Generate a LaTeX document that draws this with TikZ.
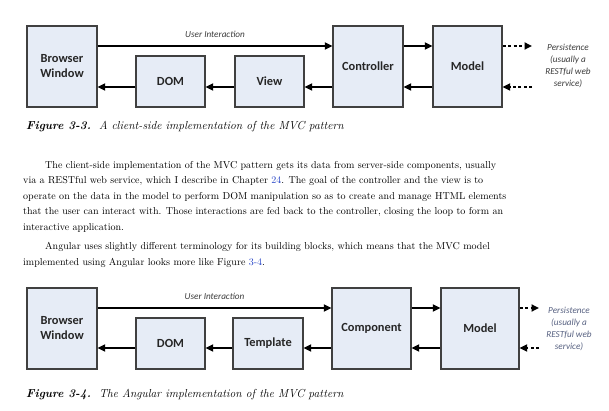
\documentclass[tikz,border=0pt]{standalone}
\usepackage{fontspec}
\newfontfamily\diafont{Carlito}
\usepackage{xcolor}
\usetikzlibrary{arrows.meta}
\usetikzlibrary{positioning}
\definecolor{boxfill}{RGB}{230,236,246}
\definecolor{boxline}{RGB}{64,64,64}
\definecolor{notegray}{RGB}{60,60,60}
\definecolor{noteblue}{RGB}{88,98,130}
\definecolor{linkblue}{RGB}{40,70,200}

\begin{document}
\begin{tikzpicture}[x=1pt, y=-1pt, >={Triangle[length=7.5pt,width=7pt]}]
\tikzstyle{block} = [draw=boxline, fill=boxfill, line width=1.2pt, inner sep=0pt, align=center, text=black!85, font=\diafont\bfseries\fontsize{12.4}{15}\selectfont, minimum width=70pt, minimum height=81pt]
\tikzstyle{low block} = [block, minimum height=51pt]
\tikzstyle{flow} = [->, line width=1.7pt]
\tikzstyle{persist} = [->, line width=1.7pt, dash pattern=on 3pt off 2.5pt]
\tikzstyle{note} = [font=\diafont\itshape\fontsize{9.2}{11.7}\selectfont, align=center, text=notegray, inner sep=0pt]
\tikzstyle{caption} = [anchor=base west, inner sep=0pt, font=\fontsize{11.6}{13}\selectfont\itshape]
\tikzstyle{body} = [anchor=north west, inner sep=0pt, align=left, font=\fontsize{10.05}{15.5}\selectfont]

\fill[white] (0,0) rectangle (609,411);
\useasboundingbox (0,0) rectangle (609,411);

% Figure 3-3
\coordinate (topA) at (0,46);
\coordinate (lowA) at (0,87);
\node[block] (browserA) at (62,66.5) {Browser\\Window};
\node[low block, minimum width=69pt] (domA) at (170.5,81.5) {DOM};
\node[low block, minimum width=69pt] (viewA) at (269.5,81.5) {View};
\node[block] (controllerA) at (368,66.5) {Controller};
\node[block, minimum width=69pt] (modelA) at (467.5,66.5) {Model};
\node[note] (persistA) at (568,66) {Persistence\\(usually a\\RESTful web\\service)};
\coordinate (storeA) at (532,0);

\draw[flow] (browserA.east |- topA) -- node[note, above=8pt]{User Interaction} (controllerA.west |- topA);
\draw[flow] (controllerA.east |- topA) -- (modelA.west |- topA);
\draw[flow] (modelA.west |- lowA) -- (controllerA.east |- lowA);
\draw[flow] (controllerA.west |- lowA) -- (viewA.east |- lowA);
\draw[flow] (viewA.west |- lowA) -- (domA.east |- lowA);
\draw[flow] (domA.west |- lowA) -- (browserA.east |- lowA);
\draw[persist] (modelA.east |- topA) -- (storeA |- topA);
\draw[persist] (storeA |- lowA) -- (modelA.east |- lowA);

\node[caption] (capA) at (26,130) {\textbf{Figure 3-3.}\ \ A client-side implementation of the MVC pattern};

% body text
\node[body] (paraA) at (23,161) {\hspace*{22pt}The client-side implementation of the MVC pattern gets its data from server-side components, usually\\
via a RESTful web service, which I describe in Chapter \textcolor{linkblue}{24}. The goal of the controller and the view is to\\
operate on the data in the model to perform DOM manipulation so as to create and manage HTML elements\\
that the user can interact with. Those interactions are fed back to the controller, closing the loop to form an\\
interactive application.};
\node[body] (paraB) at (23,242.5) {\hspace*{22pt}Angular uses slightly different terminology for its building blocks, which means that the MVC model\\
implemented using Angular looks more like Figure \textcolor{linkblue}{3-4}.};

% Figure 3-4
\coordinate (topB) at (0,308);
\coordinate (lowB) at (0,348);
\node[block] (browserB) at (62,328.5) {Browser\\Window};
\node[low block, minimum width=69pt] (domB) at (170.5,343.5) {DOM};
\node[low block] (templateB) at (268,343.5) {Template};
\node[block, minimum width=79pt] (componentB) at (371.5,328.5) {Component};
\node[block, minimum width=78pt] (modelB) at (480,328.5) {Model};
\node[note, text=noteblue] (persistB) at (569,329) {Persistence\\(usually a\\RESTful web\\service)};
\coordinate (storeB) at (539,0);

\draw[flow] (browserB.east |- topB) -- node[note, above=8pt]{User Interaction} (componentB.west |- topB);
\draw[flow] (componentB.east |- topB) -- (modelB.west |- topB);
\draw[flow] (modelB.west |- lowB) -- (componentB.east |- lowB);
\draw[flow] (componentB.west |- lowB) -- (templateB.east |- lowB);
\draw[flow] (templateB.west |- lowB) -- (domB.east |- lowB);
\draw[flow] (domB.west |- lowB) -- (browserB.east |- lowB);
\draw[persist] (modelB.east |- topB) -- (storeB |- topB);
\draw[persist] (storeB |- lowB) -- (modelB.east |- lowB);

\node[caption] (capB) at (26,397) {\textbf{Figure 3-4.}\ \ The Angular implementation of the MVC pattern};
\end{tikzpicture}
\end{document}
